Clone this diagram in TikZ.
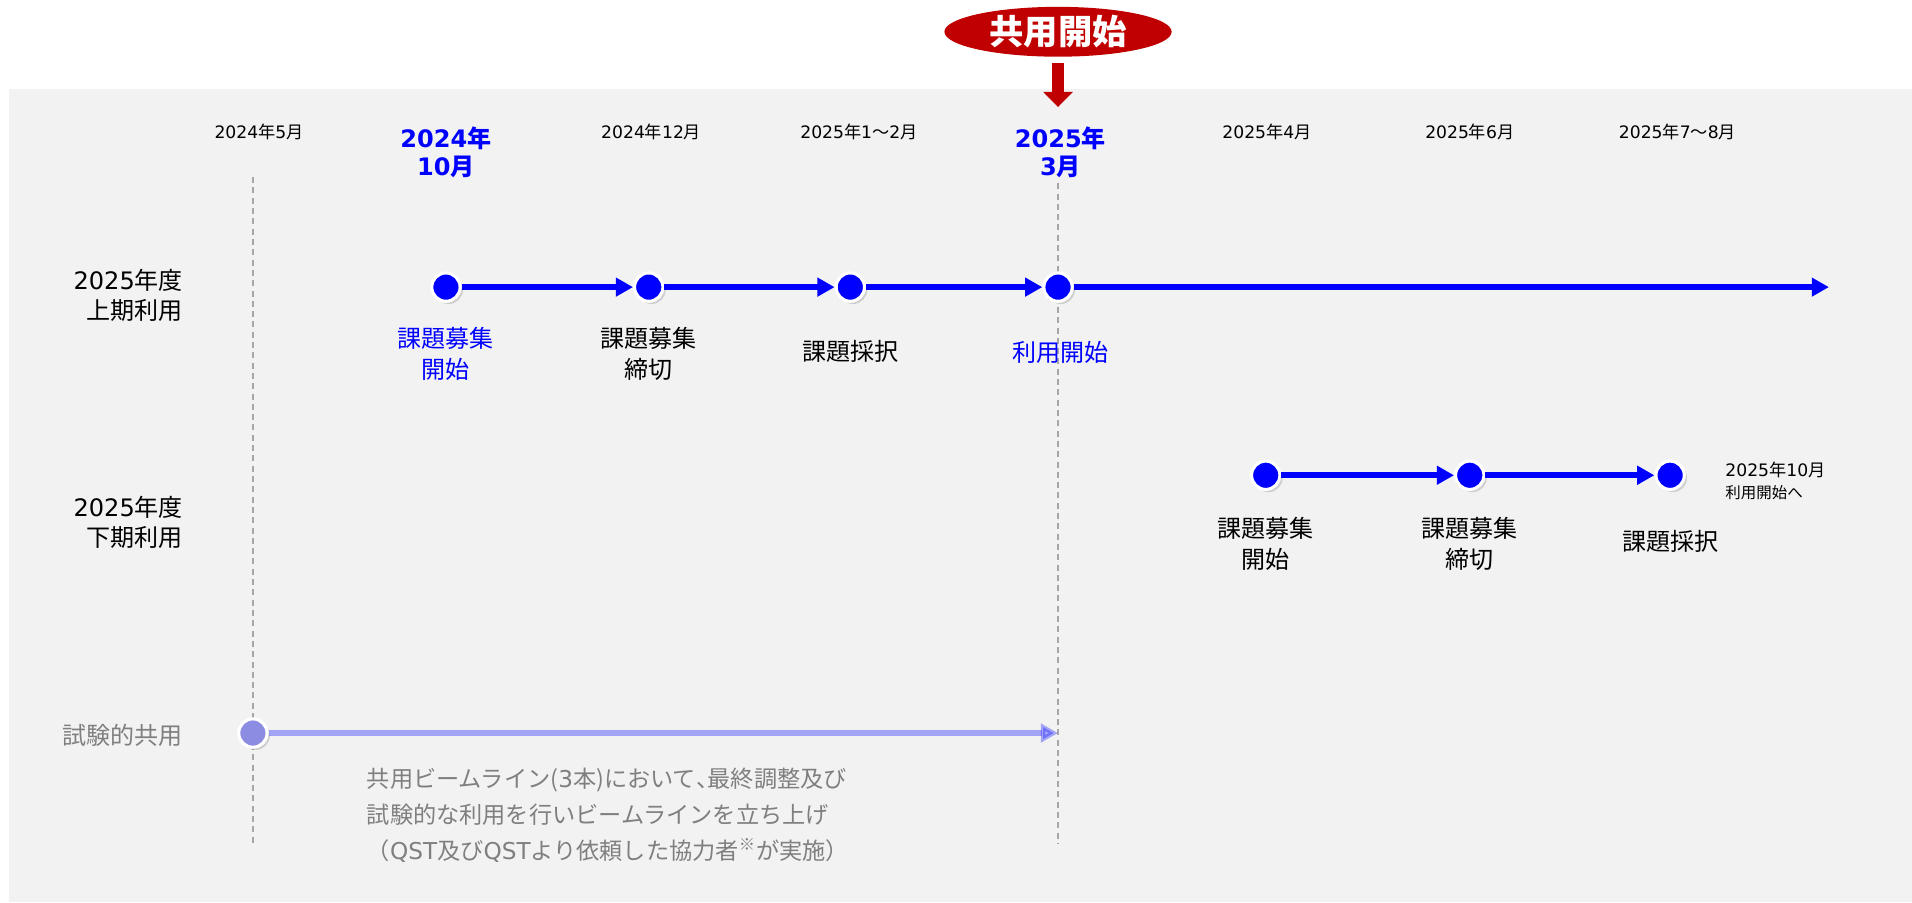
\documentclass[tikz,border=0pt]{standalone}
\usepackage{fontspec}
\setmainfont{Noto Sans CJK JP}
\newfontfamily\latinfont{DejaVu Sans}
\newcommand\nm[1]{{\latinfont #1}}
\usetikzlibrary{shapes}
\usetikzlibrary{shadows}
\usetikzlibrary{positioning}
\usetikzlibrary{arrows.meta}
\definecolor{bggray}{RGB}{242,242,242}
\definecolor{darkred}{RGB}{192,0,0}
\definecolor{linegray}{RGB}{166,166,166}
\definecolor{textgray}{RGB}{127,127,127}
\definecolor{trialblue}{RGB}{140,140,226}
\tikzset{
    mynodeb/.style = {circle, draw=white, line width=1.8pt, fill=blue, minimum size=0.58cm, inner sep=0pt,
                      drop shadow={shadow xshift=1.6pt, shadow yshift=-1.6pt, opacity=0.3}},
    mynodel/.style = {mynodeb, fill=trialblue},
    edgeb/.style = {-{Triangle[length=10pt,width=10.5pt]}, line width=3.5pt, blue},
    edgel/.style = {-{Triangle[length=10pt,width=10.5pt]}, line width=3.5pt, blue, opacity=0.32},
    guide/.style = {linegray, line width=0.8pt, dash pattern=on 3.5pt off 2.5pt},
    datelbl/.style = {inner sep=0pt, font=\fontsize{10}{12}\selectfont},
    datebig/.style = {inner sep=0pt, align=center, text=blue, font=\fontsize{14}{16.5}\selectfont\bfseries},
    rowlbl/.style = {inner sep=0pt, anchor=east, align=right, font=\fontsize{14}{17.8}\selectfont},
    evlbl/.style = {inner sep=0pt, align=center, font=\fontsize{14}{17.8}\selectfont}
}

\begin{document}
\begin{tikzpicture}
  \useasboundingbox (0,0) rectangle (39.125,-18.458);
  \fill[bggray] (0.175,-1.825) rectangle (39.125,-18.458);

  % banner
  \node[ellipse, fill=darkred, minimum width=4.65cm, minimum height=1.02cm, inner sep=0pt,
        text=white, font=\fontsize{20}{22}\selectfont\bfseries] (start) at (21.65,-0.65) {共用開始};
  \coordinate (starttip) at (21.65,-2.19);
  \draw[darkred, line width=7pt, -{Triangle[length=0.31cm,width=0.59cm]}, shorten <=0.13cm] (start.south) -- (starttip);

  % dates
  \node[datelbl] (d1) at (5.3,-2.7) {\nm{2024}年\nm{5}月};
  \node[datebig] (d2) at (9.125,-3.11) {\nm{2024}年\\\nm{10}月};
  \node[datelbl] (d3) at (13.325,-2.7) {\nm{2024}年\nm{12}月};
  \node[datelbl] (d4) at (17.575,-2.7) {\nm{2025}年\nm{1}～\nm{2}月};
  \node[datebig] (d5) at (21.7,-3.11) {\nm{2025}年\\\nm{3}月};
  \node[datelbl] (d6) at (25.925,-2.7) {\nm{2025}年\nm{4}月};
  \node[datelbl] (d7) at (30.075,-2.7) {\nm{2025}年\nm{6}月};
  \node[datelbl] (d8) at (34.325,-2.7) {\nm{2025}年\nm{7}～\nm{8}月};

  \coordinate (g1top) at (5.175,-3.625);
  \coordinate (g1bot) at (5.175,-17.25);
  \coordinate (g2top) at (21.65,-3.75);
  \coordinate (g2bot) at (21.65,-17.25);
  \draw[guide] (g1top) -- (g1bot);
  \draw[guide] (g2top) -- (g2bot);

  % rows
  \node[rowlbl] (r1) at (3.75,-6.04) {\nm{2025}年度\\上期利用};
  \node[rowlbl] (r2) at (3.75,-10.69) {\nm{2025}年度\\下期利用};
  \node[rowlbl, text=textgray] (r3) at (3.75,-15.05) {試験的共用};

  % first half
  \node[mynodeb] (a1) at (9.125,-5.875) {};
  \node[mynodeb] (a2) at (13.275,-5.875) {};
  \node[mynodeb] (a3) at (17.4,-5.875) {};
  \node[mynodeb] (a4) at (21.65,-5.875) {};
  \coordinate (a5) at (37.425,-5.875);
  \draw[edgeb] (a1) -- (a2);
  \draw[edgeb] (a2) -- (a3);
  \draw[edgeb] (a3) -- (a4);
  \draw[edgeb] (a4) -- (a5);
  \node[evlbl, text=blue] (e1) at (9.125,-7.24) {課題募集\\開始};
  \node[evlbl] (e2) at (13.275,-7.24) {課題募集\\締切};
  \node[evlbl] (e3) at (17.4,-7.2) {課題採択};
  \node[evlbl, text=blue] (e4) at (21.7,-7.22) {利用開始};

  % second half
  \node[mynodeb] (b1) at (25.9,-9.725) {};
  \node[mynodeb] (b2) at (30.075,-9.725) {};
  \node[mynodeb] (b3) at (34.175,-9.725) {};
  \draw[edgeb] (b1) -- (b2);
  \draw[edgeb] (b2) -- (b3);
  \node[evlbl] (f1) at (25.9,-11.125) {課題募集\\開始};
  \node[evlbl] (f2) at (30.075,-11.125) {課題募集\\締切};
  \node[evlbl] (f3) at (34.175,-11.075) {課題採択};
  \node[inner sep=0pt, anchor=west, align=left, font=\fontsize{10}{12.5}\selectfont] (next) at (35.3,-9.84)
    {\nm{2025}年\nm{10}月\\{\fontsize{9}{12.5}\selectfont 利用開始へ}};

  % trial
  \node[mynodel] (c1) at (5.175,-15.0) {};
  \coordinate (c2) at (21.65,-15.0);
  \draw[edgel] (c1) -- (c2);
  \node[inner sep=0pt, anchor=west, align=left, text=textgray, font=\fontsize{13.5}{21}\selectfont] (note) at (7.5,-16.675)
    {共用ビームライン(\nm{3}本)において\makebox[0.5em][l]{、}最終調整及び\\試験的な利用を行いビームラインを立ち上げ\\（\nm{QST}及び\nm{QST}より依頼した協力者\textsuperscript{※}が実施）};
\end{tikzpicture}
\end{document}
